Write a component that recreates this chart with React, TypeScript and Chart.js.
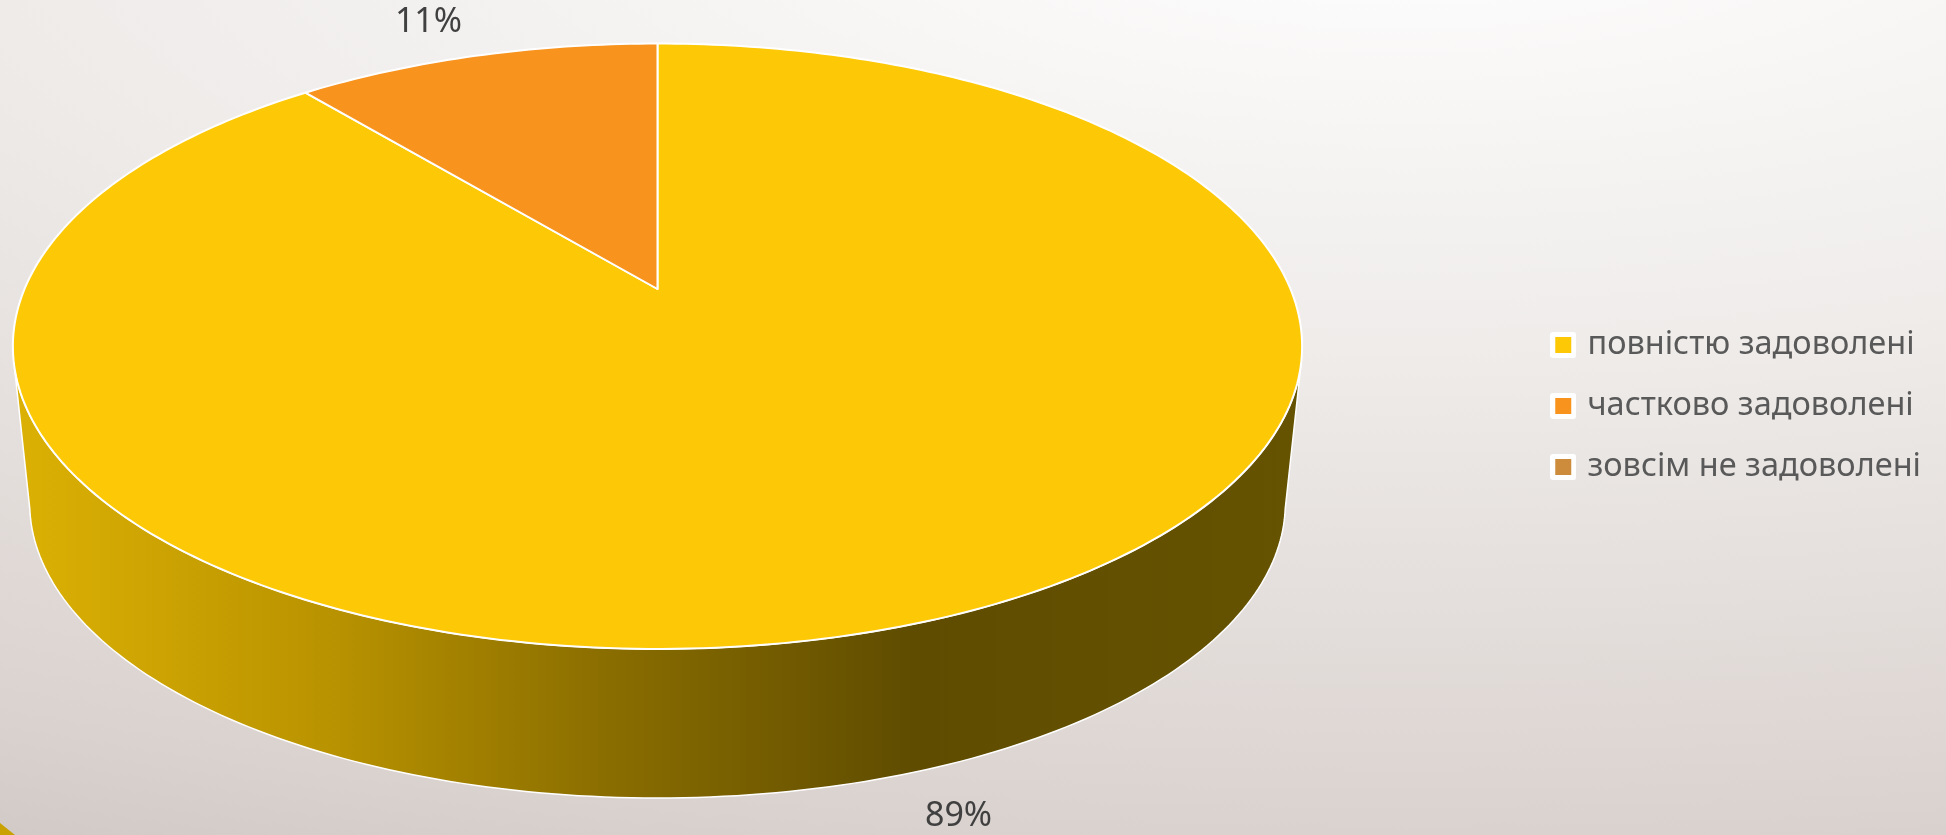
import React, { useEffect, useRef } from "react";
import { Chart, registerables } from "chart.js";

Chart.register(...registerables);

const categories = ["повністю задоволені", "частково задоволені", "зовсім не задоволені"];
const shares = [89, 11, 0];
const sliceColors = ["#fdc907", "#f8931d", "#cd8b3c"];
const FONT = "'Noto Sans'";

// Perspective of the tilted disc
const CX = 657.5;
const TOP = { y: 289, c: 633, b: 291.9 };
const BOTTOM = { y: 447.4, c: 616.5, b: 284.3 };
const TILT = -0.1891;
const project = (plane: { y: number; c: number; b: number }, a: number, r = 1) => {
  const u = Math.cos(a) * r;
  const v = Math.sin(a) * r;
  const d = 1 + TILT * v;
  return { x: CX + (plane.c * u) / d, y: plane.y + (plane.b * v) / d };
};
const rad = (d: number) => (d * Math.PI) / 180;

const marker = (color: string) => {
  const c = document.createElement("canvas");
  c.width = 26;
  c.height = 26;
  const x = c.getContext("2d")!;
  x.fillStyle = "#ffffff";
  x.beginPath();
  x.roundRect(0, 0, 26, 26, 3);
  x.fill();
  x.fillStyle = color;
  x.fillRect(5, 5, 16, 16);
  return c;
};

const perspectivePie = {
  id: "perspectivePie",
  beforeDraw(chart: any) {
    const { ctx, width, height } = chart;
    ctx.save();
    ctx.save();
    ctx.translate(1400, -100);
    ctx.scale(2900, 935);
    const g = ctx.createRadialGradient(0, 0, 0, 0, 0, 1.15);
    g.addColorStop(0, "#ffffff");
    g.addColorStop(0.5 / 1.15, "#eeebe9");
    g.addColorStop(1 / 1.15, "#dad2cf");
    g.addColorStop(1, "#cec7c3");
    ctx.fillStyle = g;
    ctx.fillRect(-1, -1, 2, 2);
    ctx.restore();
    ctx.fillStyle = "#c9a100";
    ctx.beginPath();
    ctx.moveTo(0, 823);
    ctx.lineTo(15, 835);
    ctx.lineTo(0, 835);
    ctx.closePath();
    ctx.fill();
    ctx.restore();
  },
  beforeDatasetsDraw(chart: any) {
    const { ctx } = chart;
    const meta = chart.getDatasetMeta(0);
    const values = chart.data.datasets[0].data;
    ctx.save();
    ctx.lineJoin = "round";

    // side wall
    const wall = ctx.createLinearGradient(16, 0, 1299, 0);
    wall.addColorStop(0, "#dcb104");
    wall.addColorStop(0.25, "#b89200");
    wall.addColorStop(0.45, "#8c6f00");
    wall.addColorStop(0.7, "#5f4c00");
    wall.addColorStop(1, "#665300");
    ctx.beginPath();
    for (let d = 12; d <= 168; d += 1) {
      const p = project(BOTTOM, rad(d));
      if (d === 12) ctx.moveTo(p.x, p.y);
      else ctx.lineTo(p.x, p.y);
    }
    for (let d = 165; d >= 14; d -= 1) {
      const p = project(TOP, rad(d));
      ctx.lineTo(p.x, p.y);
    }
    ctx.closePath();
    ctx.fillStyle = wall;
    ctx.fill();
    ctx.strokeStyle = "#ffffff";
    ctx.lineWidth = 1.5;
    ctx.stroke();

    // top face, from the controller's arcs
    meta.data.forEach((arc: any, i: number) => {
      if (!values[i]) return;
      const apex = project(TOP, 0, 0);
      ctx.beginPath();
      ctx.moveTo(apex.x, apex.y);
      const steps = Math.ceil((arc.endAngle - arc.startAngle) / rad(1));
      for (let s = 0; s <= steps; s++) {
        const p = project(TOP, arc.startAngle + ((arc.endAngle - arc.startAngle) * s) / steps);
        ctx.lineTo(p.x, p.y);
      }
      ctx.closePath();
      ctx.fillStyle = sliceColors[i];
      ctx.fill();
      ctx.strokeStyle = "#ffffff";
      ctx.lineWidth = 2;
      ctx.stroke();
    });

    // value labels
    ctx.fillStyle = "#404040";
    ctx.font = `34px ${FONT}`;
    ctx.textAlign = "center";
    ctx.textBaseline = "middle";
    meta.data.forEach((arc: any, i: number) => {
      if (!values[i]) return;
      const mid = (arc.startAngle + arc.endAngle) / 2;
      const below = Math.sin(mid) > 0;
      const p = project(below ? BOTTOM : TOP, mid);
      const x = p.x + Math.sign(Math.cos(mid)) * 47;
      const y = p.y + (below ? 44 : -34);
      ctx.fillText(`${values[i]}%`, x, y);
    });
    ctx.restore();
    return false;
  },
};

export default function App() {
  const ref = useRef<HTMLCanvasElement>(null);
  useEffect(() => {
    document.body.style.margin = "0";
    const chart = new Chart(ref.current!, {
      type: "pie",
      data: {
        labels: categories,
        datasets: [{ data: shares, backgroundColor: sliceColors, borderColor: "#ffffff", borderWidth: 2 }],
      },
      options: {
        responsive: false,
        animation: false,
        layout: { padding: { right: 15, bottom: 23 } },
        plugins: {
          tooltip: { enabled: false },
          legend: {
            position: "right",
            labels: {
              color: "#595959",
              font: { family: FONT, size: 32.5 },
              usePointStyle: true,
              pointStyleWidth: 16,
              boxHeight: 16,
              padding: 28.5,
              generateLabels: (c: any) =>
                c.data.labels.map((t: string, i: number) => ({
                  text: t,
                  fillStyle: sliceColors[i],
                  strokeStyle: "#ffffff",
                  lineWidth: 0,
                  pointStyle: marker(sliceColors[i]),
                  fontColor: "#595959",
                  index: i,
                })),
            },
          },
        },
      },
      plugins: [perspectivePie],
    } as any);
    return () => chart.destroy();
  }, []);
  return <canvas ref={ref} width={1946} height={835} style={{ display: "block", width: 1946, height: 835 }} />;
}
